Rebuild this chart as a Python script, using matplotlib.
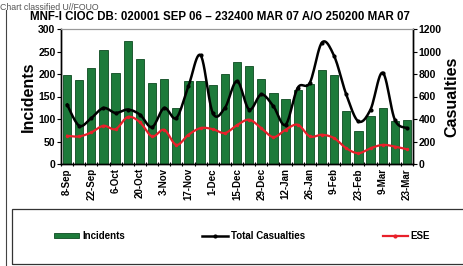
import numpy as np
import matplotlib
matplotlib.use("Agg")
import matplotlib.pyplot as plt
from matplotlib.lines import Line2D
from matplotlib.patches import Patch, Rectangle

plt.rcParams['font.family'] = ['Liberation Sans', 'DejaVu Sans']

# weekly data, 8-Sep 06 .. 23-Mar 07
weeks = ['8-Sep', '15-Sep', '22-Sep', '29-Sep', '6-Oct', '13-Oct', '20-Oct', '27-Oct',
         '3-Nov', '10-Nov', '17-Nov', '24-Nov', '1-Dec', '8-Dec', '15-Dec', '22-Dec',
         '29-Dec', '5-Jan', '12-Jan', '19-Jan', '26-Jan', '2-Feb', '9-Feb', '16-Feb',
         '23-Feb', '2-Mar', '9-Mar', '16-Mar', '23-Mar']
incidents = [197, 186, 214, 253, 203, 273, 233, 181, 190, 124, 184, 184, 176, 200,
             226, 218, 190, 157, 145, 164, 177, 209, 197, 117, 74, 107, 124, 95, 98]
casualties = [528, 340, 409, 498, 454, 484, 439, 328, 498, 409, 692, 967, 454, 498,
              737, 484, 618, 513, 349, 677, 722, 1080, 961, 618, 379, 484, 812, 394, 319]
ese = [251, 245, 281, 340, 310, 418, 372, 245, 304, 170, 260, 319, 310, 275,
       345, 394, 319, 239, 304, 349, 245, 260, 230, 140, 96, 140, 170, 155, 131]


def smooth(x, y, n=12):
    # Catmull-Rom style smoothing like Excel's "smoothed line"
    x = np.asarray(x, float)
    y = np.asarray(y, float)
    px = np.concatenate([[x[0]], x, [x[-1]]])
    py = np.concatenate([[y[0]], y, [y[-1]]])
    xs, ys = [], []
    t = np.linspace(0, 1, n, endpoint=False)
    for i in range(1, len(px) - 2):
        for arr, out in ((px, xs), (py, ys)):
            p0, p1, p2, p3 = arr[i - 1], arr[i], arr[i + 1], arr[i + 2]
            c1 = p1 + (p2 - p0) / 6
            c2 = p2 - (p3 - p1) / 6
            out.extend((1 - t) ** 3 * p1 + 3 * (1 - t) ** 2 * t * c1
                       + 3 * (1 - t) * t ** 2 * c2 + t ** 3 * p2)
    xs.append(x[-1])
    ys.append(y[-1])
    return np.array(xs), np.array(ys)


fig = plt.figure(figsize=(4.64, 2.66), dpi=100)
ax = fig.add_axes([61 / 464, 1 - 164 / 266, 352 / 464, 135 / 266])
ax2 = ax.twinx()

x = np.arange(len(weeks))
ax.bar(x, incidents, width=0.68, color='#1d7a3a', edgecolor='#0d4a20', linewidth=0.6, zorder=2)

sx, sy = smooth(x, casualties)
ax2.plot(sx, sy, color='black', lw=1.8, zorder=3)
ax2.plot(x, casualties, ls='none', marker='o', ms=2, color='black', zorder=3)
sx, sy = smooth(x, ese)
ax2.plot(sx, sy, color='#e8202a', lw=1.6, zorder=3)
ax2.plot(x, ese, ls='none', marker='o', ms=1.5, color='#e8202a', zorder=3)

ax.set_zorder(ax2.get_zorder() - 1)
ax.patch.set_visible(False)

ax.set_xlim(-0.5, len(weeks) - 0.5)
ax.set_ylim(0, 300)
ax2.set_ylim(0, 1200)
ax.set_yticks(range(0, 301, 50))
ax2.set_yticks(range(0, 1201, 200))
ax.set_xticks(x[::2])
ax.set_xticklabels(weeks[::2], rotation=90, fontsize=7, fontweight='bold')
ax.set_xticks(np.arange(-0.5, len(weeks), 1), minor=True)
ax.tick_params(axis='x', which='major', length=0, pad=3)
ax.tick_params(axis='x', which='minor', length=3, direction='inout', width=0.8)
ax.tick_params(axis='y', labelsize=7.5, length=3, width=0.8, pad=1)
ax2.tick_params(axis='y', labelsize=7.5, length=3, width=0.8, pad=1)
for lab in ax.get_yticklabels() + ax2.get_yticklabels():
    lab.set_fontweight('bold')

for a in (ax, ax2):
    a.spines['top'].set_color('#999999')
    for s in ('left', 'right', 'bottom'):
        a.spines[s].set_linewidth(1.0)

ax.set_ylabel('Incidents', fontsize=11.5, fontweight='bold', labelpad=2)
ax2.set_ylabel('Casualties', fontsize=11.5, fontweight='bold', labelpad=2)

fig.text(0.0, 0.99, 'Chart classified U//FOUO', fontsize=6.3, color='#555555',
         va='top', ha='left')
fig.text(0.473, 0.935, 'MNF-I CIOC DB: 020001 SEP 06 \u2013 232400 MAR 07 A/O 250200 MAR 07',
         fontsize=8.3, fontweight='bold', ha='center', va='center')

# outer frame pieces
fig.add_artist(Line2D([6 / 464, 6 / 464], [1 - 10 / 266, 0], color='#444444', lw=0.8))
fig.add_artist(Rectangle((12 / 464, 2 / 266), 460 / 464, 55 / 266, fill=False,
                         edgecolor='#333333', lw=0.9))

handles = [Patch(facecolor='#1d7a3a', edgecolor='#0d4a20', lw=0.6),
           Line2D([], [], color='black', lw=1.8, marker='o', ms=2),
           Line2D([], [], color='#e8202a', lw=1.6, marker='o', ms=2)]
fig.legend(handles, ['Incidents', 'Total Casualties', 'ESE'], ncol=3, frameon=False,
           loc='center left', bbox_to_anchor=(45 / 464, 1 - 236 / 266),
           prop={'size': 7, 'weight': 'bold'}, handlelength=2.6, handleheight=0.55,
           handletextpad=0.3, columnspacing=8.0)

fig.savefig('out.png', dpi=100)
